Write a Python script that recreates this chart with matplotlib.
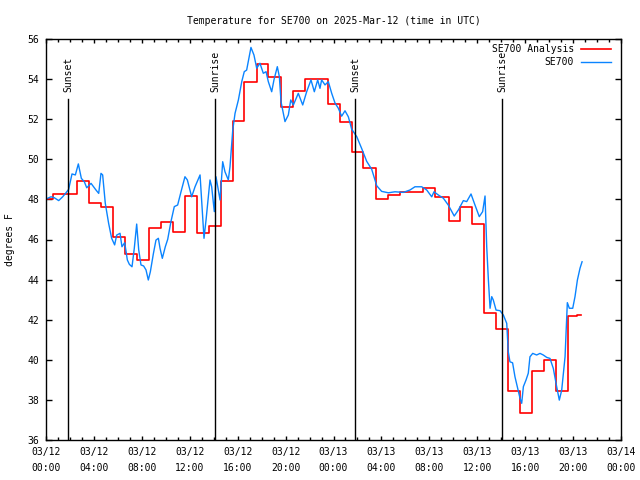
import numpy as np
import matplotlib
matplotlib.use("Agg")
import matplotlib.pyplot as plt
from matplotlib.ticker import MultipleLocator

plt.rcParams['font.family'] = ['DejaVu Sans Mono']
plt.rcParams['font.size'] = 7

### Data (hours since 2025-03-12 00:00 UTC) ###

# SE700 Analysis, hourly steps
red_hours = [0.0, 0.6, 2.58, 3.6, 4.58, 5.58, 6.58, 7.6, 8.6, 9.6, 10.6, 11.6,
             12.58, 13.6, 14.58, 15.59, 16.55, 17.59, 18.56, 19.59, 20.65, 21.6,
             23.57, 24.54, 25.52, 26.5, 27.52, 28.57, 29.55, 31.47, 32.47, 33.6,
             34.56, 35.54, 36.57, 37.57, 38.59, 39.57, 40.6, 41.6, 42.57, 43.6,
             44.3, 44.7]
red_vals = [48.03, 48.28, 48.90, 47.84, 47.60, 46.10, 45.26, 44.97, 46.55, 46.86,
            46.36, 48.17, 46.33, 46.67, 48.90, 51.91, 53.84, 54.74, 54.09, 52.63,
            53.43, 54.01, 52.76, 51.88, 50.35, 49.58, 48.02, 48.20, 48.35, 48.55,
            48.10, 46.92, 47.60, 46.77, 42.35, 41.52, 38.43, 37.33, 39.46, 39.97,
            38.43, 42.20, 42.23, 42.23]

# SE700 observations
obs_hours = [0.00, 0.42, 0.70, 1.06, 1.39, 1.67, 1.89, 2.17, 2.45, 2.70, 2.95, 3.20,
             3.40, 3.76, 4.17, 4.40, 4.59, 4.73, 4.95, 5.23, 5.48, 5.73, 5.90, 6.18,
             6.34, 6.57, 6.79, 6.96, 7.18, 7.37, 7.57, 7.74, 7.93, 8.15, 8.35, 8.54,
             8.71, 8.96, 9.18, 9.38, 9.52, 9.71, 9.96, 10.16, 10.43, 10.71, 10.99,
             11.27, 11.60, 11.80, 12.16, 12.44, 12.86, 13.19, 13.36, 13.69, 13.83,
             14.05, 14.19, 14.38, 14.53, 14.75, 14.94, 15.22, 15.36, 15.59, 15.78,
             16.06, 16.34, 16.55, 16.75, 17.11, 17.36, 17.59, 17.86, 18.14, 18.37,
             18.56, 18.84, 19.03, 19.31, 19.48, 19.62, 19.95, 20.23, 20.43, 20.65,
             21.06, 21.43, 21.76, 22.12, 22.40, 22.68, 22.87, 23.01, 23.29, 23.57,
             23.85, 24.13, 24.40, 24.68, 24.96, 25.24, 25.52, 25.94, 26.35, 26.77,
             27.19, 27.61, 28.02, 28.58, 29.13, 29.83, 30.39, 30.80, 31.36, 31.78,
             32.20, 32.39, 32.75, 33.17, 33.58, 34.08, 34.42, 34.84, 35.12, 35.48,
             35.81, 36.17, 36.45, 36.65, 36.79, 36.93, 37.07, 37.21, 37.34, 37.57,
             37.90, 38.18, 38.46, 38.59, 38.73, 38.95, 39.15, 39.37, 39.57, 39.71,
             39.85, 40.07, 40.26, 40.40, 40.63, 40.96, 41.24, 41.51, 41.80, 42.07,
             42.35, 42.63, 42.85, 43.05, 43.33, 43.52, 43.69, 43.97, 44.16, 44.36,
             44.58, 44.75]
obs_vals = [48.02, 48.13, 48.08, 47.94, 48.13, 48.33, 48.50, 49.27, 49.22, 49.77, 49.05,
            48.88, 48.58, 48.80, 48.47, 48.30, 49.30, 49.22, 47.80, 46.80, 46.06, 45.73,
            46.22, 46.31, 45.64, 45.84, 44.98, 44.76, 44.64, 45.56, 46.77, 45.48, 44.73,
            44.68, 44.48, 43.98, 44.39, 45.28, 45.97, 46.06, 45.56, 45.06, 45.64, 46.01,
            46.89, 47.64, 47.72, 48.38, 49.13, 48.97, 48.13, 48.63, 49.22, 46.06, 46.97,
            48.97, 48.63, 47.39, 49.13, 48.47, 47.97, 49.88, 49.38, 48.97, 49.63, 51.46,
            52.29, 52.96, 53.87, 54.37, 54.45, 55.58, 55.20, 54.54, 54.79, 54.29, 54.37,
            53.87, 53.37, 53.96, 54.62, 54.12, 52.87, 51.88, 52.21, 52.96, 52.71, 53.29,
            52.71, 53.37, 53.96, 53.37, 53.96, 53.54, 53.96, 53.71, 53.87, 53.29, 52.80,
            52.55, 52.15, 52.42, 52.12, 51.50, 51.13, 50.54, 49.90, 49.50, 48.68, 48.40,
            48.33, 48.38, 48.35, 48.47, 48.63, 48.63, 48.47, 48.13, 48.38, 48.22, 48.06,
            47.72, 47.17, 47.47, 47.94, 47.89, 48.27, 47.72, 47.14, 47.39, 48.17, 45.64,
            43.98, 42.57, 43.15, 42.98, 42.48, 42.45, 42.23, 41.82, 40.40, 39.90, 39.85,
            39.15, 38.58, 38.08, 37.83, 38.66, 38.99, 39.33, 40.15, 40.32, 40.24, 40.32,
            40.24, 40.12, 40.07, 39.57, 38.66, 37.99, 38.49, 40.15, 42.85, 42.57, 42.57,
            43.15, 43.98, 44.57, 44.89]

sun_hours = [1.86, 14.11, 25.8, 38.09]
sun_labels = ["Sunset", "Sunrise", "Sunset", "Sunrise"]

tick_hours = np.arange(0, 49, 4)
tick_labels = ["03/12\n00:00", "03/12\n04:00", "03/12\n08:00", "03/12\n12:00",
               "03/12\n16:00", "03/12\n20:00", "03/13\n00:00", "03/13\n04:00",
               "03/13\n08:00", "03/13\n12:00", "03/13\n16:00", "03/13\n20:00",
               "03/14\n00:00"]

### Plot ###

fig = plt.figure(figsize=(6.4, 4.8), dpi=100)
ax = fig.add_axes([46/640, 1 - 440/480, 575/640, 401/480])

red_col = '#ff0000'
blue_col = '#0a84ff'

ax.plot(red_hours, red_vals, color=red_col, lw=1.2, drawstyle='steps-post')
ax.plot(obs_hours, obs_vals, color=blue_col, lw=1.0)

for t, lab in zip(sun_hours, sun_labels):
    ax.plot([t, t], [36, 53.0], color='black', lw=1.0)
    ax.text(t, 53.35, lab, rotation=90, ha='center', va='bottom', fontsize=7)

ax.set_xlim(0, 48)
ax.set_ylim(36, 56)
ax.set_xticks(tick_hours)
ax.set_xticklabels(tick_labels, linespacing=1.7)
ax.xaxis.set_minor_locator(MultipleLocator(1))
ax.yaxis.set_major_locator(MultipleLocator(2))
ax.tick_params(which='both', direction='in', top=True, right=True, width=1)
ax.tick_params(which='major', axis='x', length=3.2, pad=5)
ax.tick_params(which='major', axis='y', length=4.2, pad=5)
ax.tick_params(which='minor', length=2)
for s in ax.spines.values():
    s.set_linewidth(1)

ax.set_title("Temperature for SE700 on 2025-Mar-12 (time in UTC)", fontsize=7, pad=11)
ax.set_ylabel("degrees F", fontsize=7, labelpad=9)

# legend, gnuplot style: right-aligned text, sample line on the right
ax.text(0.918, 0.974, "SE700 Analysis", transform=ax.transAxes, ha='right', va='center')
ax.text(0.918, 0.942, "SE700", transform=ax.transAxes, ha='right', va='center')
ax.plot([0.930, 0.982], [0.974, 0.974], color=red_col, lw=1.2, transform=ax.transAxes)
ax.plot([0.930, 0.982], [0.942, 0.942], color=blue_col, lw=1.0, transform=ax.transAxes)

plt.savefig("out.png", dpi=100)
